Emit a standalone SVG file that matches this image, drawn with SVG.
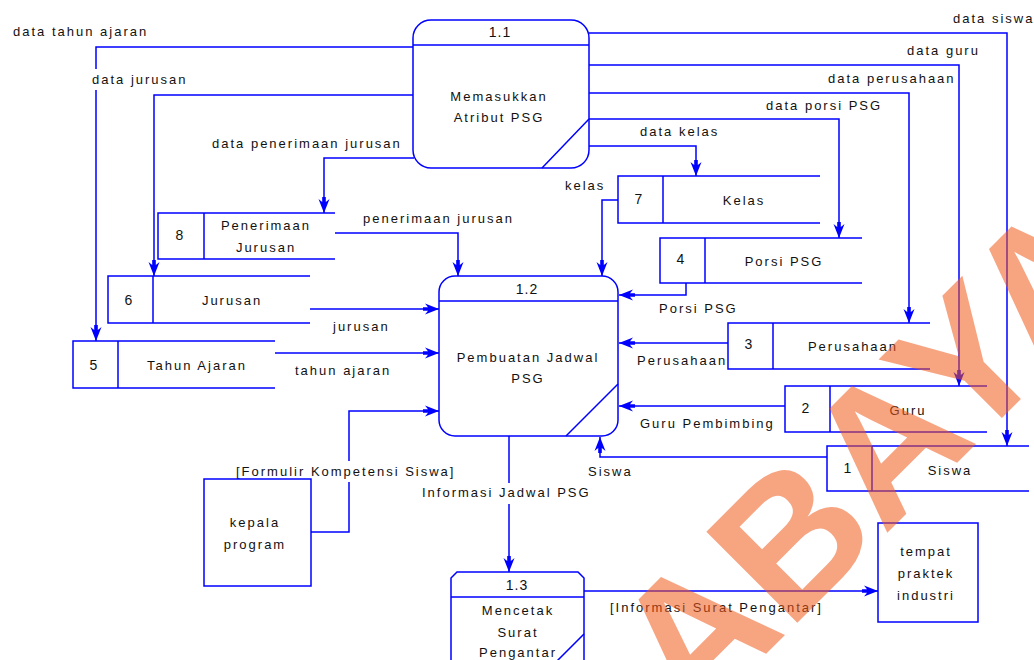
<svg xmlns="http://www.w3.org/2000/svg" width="1034" height="660" viewBox="0 0 1034 660">
  <defs>
    <style>
      .ln { fill: none; stroke: #0000ff; stroke-width: 1.5; }
      .flow { fill: none; stroke: #0000ff; stroke-width: 1.5; marker-end: url(#arr); }
      .box { fill: #ffffff; stroke: #0000ff; stroke-width: 1.5; }
      .t { font-family: "Liberation Sans", Arial, sans-serif; font-size: 13px; letter-spacing: 2px; fill: #111111; }
      .num { font-family: "Liberation Sans", Arial, sans-serif; font-size: 14px; letter-spacing: 1px; fill: #111111; text-anchor: middle; }
      .c { text-anchor: middle; }
      .bg { fill: #ffffff; }
      .wm { font-family: "Liberation Sans", Arial, sans-serif; font-size: 187px; font-weight: bold; fill: #f25a1c; opacity: 0.55; }
    </style>
    <marker id="arr" viewBox="-17 -7 18 14" refX="0" refY="0" markerWidth="18" markerHeight="14" markerUnits="userSpaceOnUse" orient="auto">
      <path d="M0,0 L-14,-5.5 L-11,-1.8 L-16,-1.8 L-16,1.8 L-11,1.8 L-14,5.5 Z" fill="#0000ff"/>
    </marker>
  </defs>

  <rect width="1034" height="660" fill="#ffffff"/>

  <!-- data flows -->
  <g id="connectors">
    <path class="flow" d="M413,47 H96 V341"/>
    <path class="flow" d="M413,95 H154 V276"/>
    <path class="flow" d="M414,158 H324 V213"/>
    <path class="flow" d="M589,33 H1007 V446"/>
    <path class="flow" d="M589,65 H959 V386"/>
    <path class="flow" d="M589,93 H909 V323"/>
    <path class="flow" d="M589,119 H839 V238"/>
    <path class="flow" d="M589,146 H696 V176"/>
    <path class="flow" d="M335,233 H458 V276"/>
    <path class="flow" d="M618,200 H602 V276"/>
    <path class="flow" d="M310,309 H439"/>
    <path class="flow" d="M275,353 H439"/>
    <path class="flow" d="M311,532 H349 V411 H439"/>
    <path class="flow" d="M686,283 V295 H619"/>
    <path class="flow" d="M728,343 H619"/>
    <path class="flow" d="M785,406 H619"/>
    <path class="flow" d="M827,457 H600 V437"/>
    <path class="flow" d="M509,436 V572"/>
    <path class="flow" d="M584,591 H878"/>

    <!-- flow labels -->
    <text class="t" x="13" y="36">data tahun ajaran</text>
    <rect class="bg" x="90" y="69" width="99" height="21"/>
    <text class="t" x="92" y="84">data jurusan</text>
    <text class="t" x="212" y="148">data penerimaan jurusan</text>
    <text class="t" x="953" y="23">data siswa</text>
    <text class="t" x="907" y="55">data guru</text>
    <text class="t" x="828" y="83">data perusahaan</text>
    <text class="t" x="766" y="110">data porsi PSG</text>
    <text class="t" x="640" y="136">data kelas</text>
    <text class="t" x="565" y="190">kelas</text>
    <text class="t" x="363" y="223">penerimaan jurusan</text>
    <text class="t" x="333" y="331">jurusan</text>
    <text class="t" x="295" y="375">tahun ajaran</text>
    <text class="t" x="659" y="313">Porsi PSG</text>
    <text class="t" x="637" y="365">Perusahaan</text>
    <text class="t" x="640" y="428">Guru Pembimbing</text>
    <text class="t" x="588" y="476">Siswa</text>
    <rect class="bg" x="234" y="461" width="226" height="21"/>
    <text class="t" x="236" y="476">[Formulir Kompetensi Siswa]</text>
    <rect class="bg" x="420" y="483" width="176" height="21"/>
    <text class="t" x="422" y="497">Informasi Jadwal PSG</text>
    <text class="t" x="610" y="612">[Informasi Surat Pengantar]</text>
  </g>

  <!-- processes -->
  <g id="p1-1">
    <rect class="box" x="413" y="20" width="176" height="148" rx="18"/>
    <path class="ln" d="M413,45 H589 M542,168 L589,119"/>
    <text class="num" x="500" y="37">1.1</text>
    <text class="t c" x="499" y="101">Memasukkan</text>
    <text class="t c" x="499" y="122">Atribut PSG</text>
  </g>

  <g id="p1-2">
    <rect class="box" x="439" y="276" width="179" height="160" rx="16"/>
    <path class="ln" d="M439,301 H618 M566,436 L618,384"/>
    <text class="num" x="527" y="294">1.2</text>
    <text class="t c" x="528" y="362">Pembuatan Jadwal</text>
    <text class="t c" x="528" y="383">PSG</text>
  </g>

  <g id="p1-3">
    <path class="box" d="M457,572 H578 L584,578 V680 H451 V578 Z"/>
    <path class="ln" d="M451,597 H584 M584,634 L556,662"/>
    <text class="num" x="517" y="590">1.3</text>
    <text class="t c" x="518" y="615">Mencetak</text>
    <text class="t c" x="518" y="637">Surat</text>
    <text class="t c" x="518" y="657">Pengantar</text>
  </g>

  <!-- external entities -->
  <g id="kepala-program">
    <rect class="box" x="204" y="479" width="107" height="107"/>
    <text class="t c" x="255" y="527">kepala</text>
    <text class="t c" x="255" y="549">program</text>
  </g>

  <g id="tempat-praktek">
    <rect class="box" x="878" y="523" width="100" height="99"/>
    <text class="t c" x="926" y="556">tempat</text>
    <text class="t c" x="926" y="578">praktek</text>
    <text class="t c" x="926" y="600">industri</text>
  </g>

  <!-- data stores -->
  <g id="ds8">
    <path class="ln" d="M335,213 H158 V259 H335 M204,213 V259"/>
    <text class="num" x="180" y="240">8</text>
    <text class="t c" x="266" y="230">Penerimaan</text>
    <text class="t c" x="266" y="252">Jurusan</text>
  </g>

  <g id="ds6">
    <path class="ln" d="M310,276 H108 V323 H310 M153,276 V323"/>
    <text class="num" x="129" y="305">6</text>
    <text class="t c" x="232" y="305">Jurusan</text>
  </g>

  <g id="ds5">
    <path class="ln" d="M275,341 H73 V388 H275 M118,341 V388"/>
    <text class="num" x="94" y="370">5</text>
    <text class="t c" x="197" y="370">Tahun Ajaran</text>
  </g>

  <g id="ds7">
    <path class="ln" d="M820,176 H618 V223 H820 M663,176 V223"/>
    <text class="num" x="639" y="204">7</text>
    <text class="t c" x="744" y="205">Kelas</text>
  </g>

  <g id="ds4">
    <path class="ln" d="M862,238 H660 V283 H862 M705,238 V283"/>
    <text class="num" x="681" y="264">4</text>
    <text class="t c" x="784" y="266">Porsi PSG</text>
  </g>

  <g id="ds3">
    <path class="ln" d="M930,323 H728 V369 H930 M773,323 V369"/>
    <text class="num" x="749" y="349">3</text>
    <text class="t c" x="853" y="351">Perusahaan</text>
  </g>

  <g id="ds2">
    <path class="ln" d="M987,386 H785 V432 H987 M830,386 V432"/>
    <text class="num" x="806" y="413">2</text>
    <text class="t c" x="908" y="415">Guru</text>
  </g>

  <g id="ds1">
    <path class="ln" d="M1029,446 H827 V491 H1029 M872,446 V491"/>
    <text class="num" x="848" y="473">1</text>
    <text class="t c" x="950" y="475">Siswa</text>
  </g>

  <!-- watermark -->
  <g id="watermark">
    <text class="wm" x="693" y="727" transform="rotate(-45 693 727)">ABAYA</text>
  </g>
</svg>
